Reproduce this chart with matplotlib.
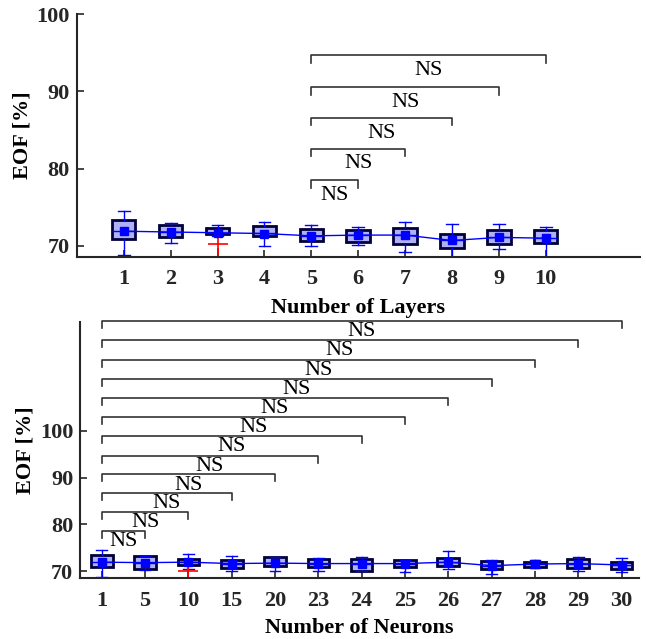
import matplotlib.pyplot as plt
import numpy as np

plt.rcParams['font.family'] = ['Liberation Serif', 'DejaVu Serif']

# ---- data: top panel (number of layers) ----
layers = ['1', '2', '3', '4', '5', '6', '7', '8', '9', '10']
lay_q1 = [70.9, 71.2, 71.5, 71.3, 70.6, 70.5, 70.3, 69.7, 70.2, 70.35]
lay_q3 = [73.4, 72.7, 72.3, 72.6, 72.2, 72.1, 72.3, 71.55, 72.1, 72.0]
lay_med = [71.9, 71.8, 71.7, 71.7, 71.3, 71.4, 71.4, 70.7, 71.1, 71.0]
lay_mean = [71.9, 71.8, 71.7, 71.6, 71.3, 71.4, 71.4, 70.7, 71.1, 71.0]
lay_lo = [68.8, 70.35, 71.3, 70.0, 70.0, 70.1, 69.2, 68.6, 69.65, 68.6]
lay_hi = [74.5, 73.0, 72.7, 73.1, 72.7, 72.5, 73.1, 72.8, 72.85, 72.4]
lay_out = [[], [], [70.3, 68.4], [], [], [], [], [], [], []]
lay_pairs = [(5, 6), (5, 7), (5, 8), (5, 9), (5, 10)]
lay_bracket_y = [78.5, 82.6, 86.6, 90.5, 94.7]

# ---- data: bottom panel (number of neurons) ----
neurons = ['1', '5', '10', '15', '20', '23', '24', '25', '26', '27', '28', '29', '30']
neu_q1 = [70.8, 70.5, 71.4, 70.7, 71.1, 70.9, 70.1, 70.8, 71.1, 70.35, 70.9, 70.6, 70.4]
neu_q3 = [73.4, 73.2, 72.6, 72.35, 72.9, 72.5, 72.5, 72.35, 72.85, 72.2, 72.0, 72.5, 72.0]
neu_med = [71.9, 71.8, 71.9, 71.6, 71.7, 71.6, 71.6, 71.6, 71.9, 71.15, 71.5, 71.6, 71.3]
neu_mean = [71.9, 71.8, 71.9, 71.6, 71.7, 71.6, 71.6, 71.6, 71.9, 71.15, 71.5, 71.6, 71.3]
neu_lo = [68.8, 70.3, 70.4, 70.1, 70.1, 70.0, 70.0, 69.9, 70.35, 69.4, 70.6, 70.1, 69.9]
neu_hi = [74.5, 73.3, 73.6, 73.3, 73.0, 72.7, 73.05, 72.4, 74.3, 72.3, 72.35, 72.9, 72.7]
neu_out = [[], [], [70.0, 68.2], [], [], [], [], [], [], [], [], [], []]
neu_pairs = [(1, k) for k in range(2, 14)]
neu_bracket_y = [78.55, 82.6, 86.67, 90.7, 94.7, 98.85, 102.9, 107.0, 111.1, 115.2, 119.4, 123.5]

FS = 16
DARK = '#262626'


def draw_panel(ax, labels, q1, q3, med, mean, lo, hi, out, pairs, br_y, drop, txt_off):
    pos = np.arange(1, len(labels) + 1)
    stats = []
    for i in range(len(labels)):
        stats.append(dict(q1=q1[i], q3=q3[i], med=med[i], mean=mean[i],
                          whislo=lo[i], whishi=hi[i], fliers=out[i]))
    ax.bxp(stats, positions=pos, widths=0.5, patch_artist=True, showmeans=False,
           boxprops=dict(facecolor='#b0b0f4', edgecolor='#00003a', linewidth=2),
           whiskerprops=dict(color='blue', linewidth=1),
           capprops=dict(color='blue', linewidth=1),
           medianprops=dict(color='blue', linewidth=1),
           flierprops=dict(marker='+', markeredgecolor='red', markersize=14,
                           markeredgewidth=1.2, linestyle='none'),
           capwidths=0.25)
    ax.plot(pos, mean, color='blue', lw=1, marker='s', markersize=6, zorder=5)

    for (a, b), y in zip(pairs, br_y):
        ax.plot([a, a, b, b], [y - drop, y, y, y - drop], color='#333333', lw=1.2,
                clip_on=False)
        ax.text((a + b) / 2, y - txt_off, 'NS', ha='center', va='center',
                fontsize=FS, clip_on=False)

    ax.set_xticks(pos)
    ax.set_xticklabels(labels, fontweight='bold', fontsize=FS)
    ax.set_yticks([70, 80, 90, 100])
    ax.set_yticklabels(['70', '80', '90', '100'], fontweight='bold', fontsize=FS)
    ax.tick_params(direction='in', length=5, width=1.2, colors=DARK, pad=5)
    ax.tick_params(axis='x', pad=9)
    for s in ['top', 'right']:
        ax.spines[s].set_visible(False)
    for s in ['left', 'bottom']:
        ax.spines[s].set_color(DARK)
        ax.spines[s].set_linewidth(1.5)
    ax.set_ylabel('EOF [%]', fontweight='bold', fontsize=FS, labelpad=3)


fig = plt.figure(figsize=(6.46, 6.39), dpi=100)

ax1 = fig.add_axes([0.119, 0.598, 0.871, 0.380])
draw_panel(ax1, layers, lay_q1, lay_q3, lay_med, lay_mean, lay_lo, lay_hi, lay_out,
           lay_pairs, lay_bracket_y, 1.0, 2.0)
ax1.set_xlim(0, 12)
ax1.set_ylim(68.58, 100)
ax1.set_xlabel('Number of Layers', fontweight='bold', fontsize=FS, labelpad=6)

ax2 = fig.add_axes([0.124, 0.095, 0.865, 0.4006])
draw_panel(ax2, neurons, neu_q1, neu_q3, neu_med, neu_mean, neu_lo, neu_hi, neu_out,
           neu_pairs, neu_bracket_y, 1.5, 2.3)
ax2.set_xlim(0.5, 13.4)
ax2.set_ylim(68.45, 123.2)
ax2.set_xlabel('Number of Neurons', fontweight='bold', fontsize=FS, labelpad=5)

fig.savefig('out.png', dpi=100)
